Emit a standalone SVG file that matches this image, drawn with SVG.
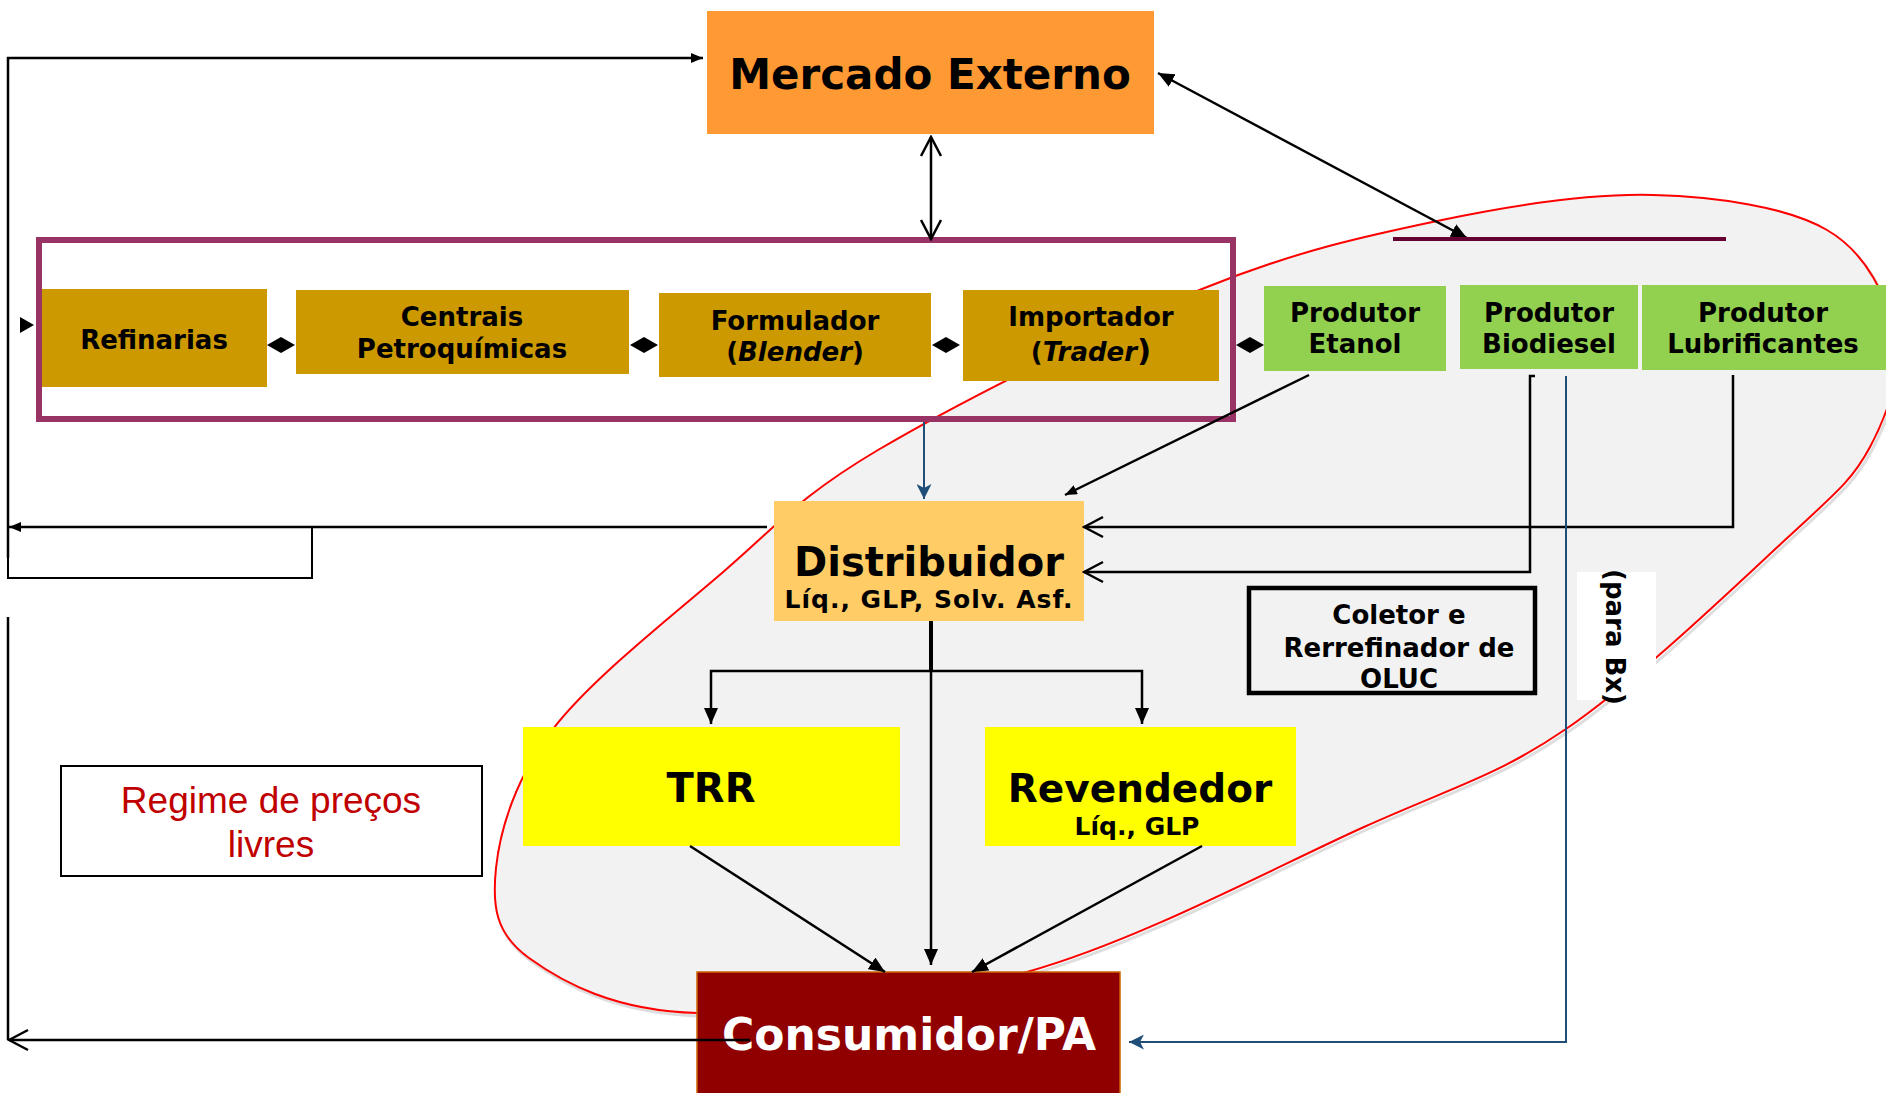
<svg xmlns="http://www.w3.org/2000/svg" width="1886" height="1093" viewBox="0 0 1886 1093">
<style>
.lbl{font-family:"DejaVu Sans",Verdana,sans-serif;font-weight:bold;text-anchor:middle;fill:#000}
.s26{font-size:26px}
.ln{fill:none;stroke:#000;stroke-width:2.5}
.blue{fill:none;stroke:#1F4E79;stroke-width:2}
.gold{fill:#CC9900}
.green{fill:#92D050}
</style>
<defs>
<marker id="ah" viewBox="0 0 16 14" refX="16" refY="7" markerWidth="16" markerHeight="14" markerUnits="userSpaceOnUse" orient="auto-start-reverse"><path d="M0,0 L16,7 L0,14 z" fill="#000"/></marker>
<marker id="ahs" viewBox="0 0 12 10" refX="12" refY="5" markerWidth="12" markerHeight="10" markerUnits="userSpaceOnUse" orient="auto-start-reverse"><path d="M0,0 L12,5 L0,10 z" fill="#000"/></marker>
<marker id="chev" viewBox="0 0 22 24" refX="20" refY="12" markerWidth="22" markerHeight="24" markerUnits="userSpaceOnUse" orient="auto-start-reverse"><path d="M1,2 L20,12 L1,22" fill="none" stroke="#000" stroke-width="2.5"/></marker>
<marker id="bah" viewBox="0 0 15 15" refX="15" refY="7.5" markerWidth="15" markerHeight="15" markerUnits="userSpaceOnUse" orient="auto"><path d="M0,0 L15,7.5 L0,15 L4,7.5 z" fill="#1F4E79"/></marker>
<path id="regionShape" d="M496,868 C500,829.8 515.3,778.2 553,729 C590.7,679.8 667.8,619.5 722,573 C776.2,526.5 798,497.3 878,450 C958,402.7 1108,327.3 1202,289 C1296,250.7 1366.8,235.7 1442,220 C1517.2,204.3 1588.8,193.3 1653,195 C1717.2,196.7 1786.7,206.7 1827,230 C1867.3,253.3 1887.8,298.8 1895,335 C1902.2,371.2 1888.3,412.8 1870,447 C1851.7,481.2 1835.7,493 1785,540 C1734.3,587 1636.2,681.2 1566,729 C1495.8,776.8 1453.8,786.5 1364,827 C1274.2,867.5 1138.2,941 1027,972 C915.8,1003 780,1015.3 697,1013 C614,1010.7 562.5,982.2 529,958 C495.5,933.8 492,906.2 496,868 Z"/>
</defs>
<rect width="1886" height="1093" fill="#fff"/>

<g id="region">
<use href="#regionShape" transform="translate(2,3)" fill="none" stroke="#C8C8C8" stroke-width="3" opacity="0.6"/>
<use href="#regionShape" fill="#F2F2F2" stroke="#FF0000" stroke-width="2"/>
</g>

<g id="grupo-refino">
<rect x="39" y="240" width="1194" height="179" fill="none" stroke="#993366" stroke-width="6"/>
</g>

<g id="mercado-externo">
<rect x="707" y="11" width="447" height="123" fill="#FF9933"/>
<text class="lbl" x="930" y="89" font-size="42">Mercado Externo</text>
</g>

<g id="refinarias">
<rect class="gold" x="42" y="289" width="225" height="98"/>
<text class="lbl s26" x="154" y="349">Refinarias</text>
</g>
<g id="centrais">
<rect class="gold" x="296" y="290" width="333" height="84"/>
<text class="lbl s26" x="462" y="326">Centrais</text>
<text class="lbl s26" x="462" y="358">Petroquímicas</text>
</g>
<g id="formulador">
<rect class="gold" x="659" y="293" width="272" height="84"/>
<text class="lbl s26" x="795" y="330">Formulador</text>
<text class="lbl s26" x="795" y="361">(<tspan font-style="italic">Blender</tspan>)</text>
</g>
<g id="importador">
<rect class="gold" x="963" y="290" width="256" height="91"/>
<text class="lbl s26" x="1091" y="326">Importador</text>
<text class="lbl s26" x="1091" y="361">(<tspan font-style="italic">Trader</tspan><tspan font-size="31">)</tspan></text>
</g>

<g id="produtor-etanol">
<rect class="green" x="1264" y="286" width="182" height="85"/>
<text class="lbl s26" x="1355" y="322">Produtor</text>
<text class="lbl s26" x="1355" y="353">Etanol</text>
</g>
<g id="produtor-biodiesel">
<rect class="green" x="1460" y="285" width="178" height="84"/>
<text class="lbl s26" x="1549" y="322">Produtor</text>
<text class="lbl s26" x="1549" y="353">Biodiesel</text>
</g>
<g id="produtor-lubrificantes">
<rect class="green" x="1642" y="285" width="244" height="85"/>
<text class="lbl s26" x="1763" y="322">Produtor</text>
<text class="lbl s26" x="1763" y="353">Lubrificantes</text>
</g>

<g id="distribuidor">
<rect x="774" y="501" width="310" height="120" fill="#FFCC66"/>
<text class="lbl" x="929" y="576" font-size="40">Distribuidor</text>
<text class="lbl" x="929" y="608" font-size="25" letter-spacing="1">Líq., GLP, Solv. Asf.</text>
</g>

<g id="trr">
<rect x="523" y="727" width="377" height="119" fill="#FFFF00"/>
<text class="lbl" x="711" y="802" font-size="40">TRR</text>
</g>

<g id="revendedor">
<rect x="985" y="727" width="311" height="119" fill="#FFFF00"/>
<text class="lbl" x="1140" y="802" font-size="39">Revendedor</text>
<text class="lbl" x="1137" y="835" font-size="25">Líq., GLP</text>
</g>

<g id="coletor">
<rect x="1249" y="588" width="286" height="105" fill="none" stroke="#000" stroke-width="4.5"/>
<text class="lbl s26" x="1399" y="624">Coletor e</text>
<text class="lbl s26" x="1399" y="657">Rerrefinador de</text>
<text class="lbl s26" x="1399" y="688">OLUC</text>
</g>

<g id="para-bx">
<rect x="1577" y="572" width="79" height="128" fill="#fff"/>
<text class="lbl s26" transform="translate(1606,637) rotate(90)" x="0" y="0">(para Bx)</text>
</g>

<g id="regime">
<rect x="61" y="766" width="421" height="110" fill="#fff" stroke="#000" stroke-width="2"/>
<text x="271" y="813" font-family="'Liberation Sans',Arial,sans-serif" font-size="37" fill="#C00000" text-anchor="middle">Regime de preços</text>
<text x="271" y="857" font-family="'Liberation Sans',Arial,sans-serif" font-size="37" fill="#C00000" text-anchor="middle">livres</text>
</g>

<g id="consumidor">
<rect x="697" y="972" width="423" height="125" fill="#910000" stroke="#CC6600" stroke-width="1.5"/>
<text class="lbl" x="909" y="1050" font-size="44" style="fill:#fff">Consumidor/PA</text>
</g>

<g id="connectors">
<path class="ln" d="M8,558 L8,58 L703,58" stroke-width="3" marker-end="url(#ahs)"/>
<path class="ln" d="M767,527 L9,527" marker-end="url(#ahs)"/>
<rect x="8" y="527" width="304" height="51" fill="none" stroke="#000" stroke-width="2"/>
<path class="ln" d="M8,617 L8,1040"/>
<path class="ln" d="M750,1040 L9,1040" marker-end="url(#chev)"/>
<polygon points="20,317 34,325 20,333" fill="#000"/>
<path class="ln" d="M931,137 L931,239" marker-start="url(#chev)" marker-end="url(#chev)"/>
<path class="ln" d="M1158,73 L1467,238" marker-start="url(#ah)" marker-end="url(#ah)"/>
<line x1="1393" y1="239" x2="1726" y2="239" stroke="#660033" stroke-width="4"/>
<polygon points="267,345 281,337 295,345 281,353" fill="#000"/>
<polygon points="630,345 644,337 658,345 644,353" fill="#000"/>
<polygon points="932,345 946,337 960,345 946,353" fill="#000"/>
<polygon points="1236,345 1250,337 1264,345 1250,353" fill="#000"/>
<path class="blue" d="M924,422 L924,499" marker-end="url(#bah)"/>
<path class="ln" d="M1309,375 L1065,495" marker-end="url(#ahs)"/>
<path class="ln" d="M1733,375 L1733,527 L1084,527" marker-end="url(#chev)"/>
<path class="ln" d="M1535,376 L1530,376 L1530,572 L1084,572" marker-end="url(#chev)"/>
<path class="blue" d="M1566,376 L1566,1042 L1129,1042" marker-end="url(#bah)"/>
<line x1="931" y1="621" x2="931" y2="672" stroke="#000" stroke-width="4"/>
<path class="ln" d="M931,671 L931,965" marker-end="url(#ah)"/>
<path class="ln" d="M711,724 L711,671 L1142,671 L1142,724" marker-start="url(#ah)" marker-end="url(#ah)"/>
<path class="ln" d="M690,846 L885,972" marker-end="url(#ah)"/>
<path class="ln" d="M1202,846 L972,972" marker-end="url(#ah)"/>
</g>
</svg>
